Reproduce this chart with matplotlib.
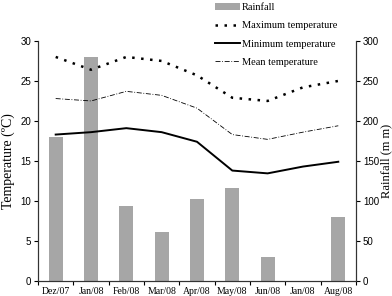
import matplotlib.pyplot as plt
import numpy as np

# Monthly climate data
months = ["Dez/07", "Jan/08", "Feb/08", "Mar/08", "Apr/08", "May/08", "Jun/08", "Jan/08", "Aug/08"]
rainfall = [180, 280, 94, 61, 102, 116, 30, 0, 80]
t_max = [28.0, 26.4, 28.0, 27.5, 25.7, 22.9, 22.5, 24.2, 25.0]
t_min = [18.3, 18.6, 19.1, 18.6, 17.4, 13.8, 13.45, 14.3, 14.9]
t_mean = [22.8, 22.5, 23.7, 23.2, 21.6, 18.3, 17.7, 18.6, 19.4]

serif = "Liberation Serif"
sans = "Liberation Sans"

fig = plt.figure(figsize=(3.92, 2.96), dpi=100)
ax = fig.add_axes([0.097, 0.0507, 0.811, 0.811])
ax2 = ax.twinx()

x = np.arange(len(months))
bars = ax2.bar(x, rainfall, width=0.4, color="#a6a6a6", label="Rainfall", zorder=1)
ax2.set_ylim(0, 300)
ax2.set_yticks(range(0, 301, 50))

ax.set_zorder(ax2.get_zorder() + 1)
ax.patch.set_visible(False)
l1, = ax.plot(x, t_max, color="black", linestyle=(0, (1, 2.6)), linewidth=1.8, label="Maximum temperature")
l2, = ax.plot(x, t_min, color="black", linestyle="-", linewidth=1.4, label="Minimum temperature")
l3, = ax.plot(x, t_mean, color="black", linestyle=(0, (6, 2, 1, 2)), linewidth=0.6, label="Mean temperature")
ax.set_ylim(0, 30)
ax.set_yticks(range(0, 31, 5))
ax.set_xlim(-0.5, len(months) - 0.5)
ax.set_xticks(x)
ax.set_xticklabels(months, fontfamily=serif, fontsize=7)
ax.set_xticks(np.arange(-0.5, len(months)), minor=True)
ax.tick_params(axis="x", which="major", length=0, pad=4)
ax.tick_params(axis="x", which="minor", length=3, direction="out", width=0.8)

for a in (ax, ax2):
    a.spines["top"].set_visible(False)
    for s in ("left", "right", "bottom"):
        a.spines[s].set_linewidth(0.8)
        a.spines[s].set_color("#333333")
ax.tick_params(axis="y", labelsize=7, length=3, width=0.8, pad=2)
ax2.tick_params(axis="y", labelsize=7, length=3, width=0.8, pad=2)
for lab in ax.get_yticklabels() + ax2.get_yticklabels():
    lab.set_fontfamily(sans)

ax.set_ylabel("Temperature (ºC)", fontfamily=serif, fontsize=10, labelpad=4)
ax2.set_ylabel("Rainfall (m m)", fontfamily=serif, fontsize=9, labelpad=1)

fig.legend([bars, l1, l2, l3], ["Rainfall", "Maximum temperature", "Minimum temperature", "Mean temperature"],
           loc="upper left", bbox_to_anchor=(0.525, 1.02), frameon=False,
           prop={"family": serif, "size": 7.5}, handlelength=2.4, handletextpad=0.2,
           labelspacing=0.85, borderpad=0.35)

fig.savefig("out.png", dpi=100)
